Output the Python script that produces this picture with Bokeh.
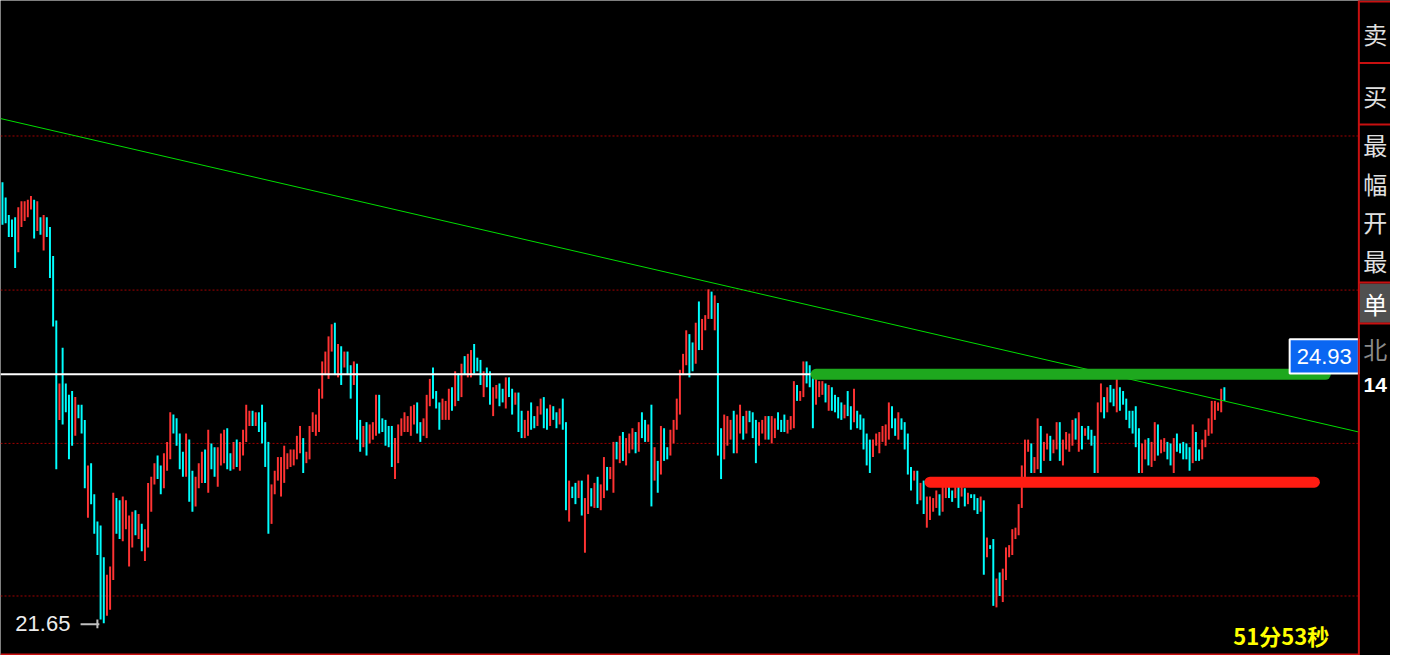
from bokeh.plotting import figure
from bokeh.models import Range1d
from bokeh.embed import file_html
from bokeh.resources import INLINE
from bokeh.core.properties import value

# ---------------- data ----------------
opens = [
    27.46, 27.26, 27.03, 26.97, 27.00, 26.54, 26.87, 26.95, 27.00, 27.10,
    27.23, 26.82, 27.00, 26.56, 27.00, 26.87, 26.49, 25.64, 24.33, 25.28,
    24.81, 24.66, 24.71, 24.12, 24.53, 24.53, 24.33, 23.04, 23.76, 23.35,
    22.99, 22.94, 22.52, 21.75, 21.83, 22.22, 23.30, 23.27, 22.73, 22.89,
    22.40, 22.65, 23.14, 22.76, 22.96, 22.47, 22.65, 23.12, 23.48, 23.86,
    23.73, 23.43, 23.66, 23.81, 24.40, 24.35, 24.15, 23.91, 23.58, 24.07,
    23.66, 23.19, 23.43, 23.50, 23.94, 23.37, 24.02, 23.97, 23.45, 23.73,
    23.76, 24.22, 23.89, 23.68, 24.07, 23.66, 23.86, 24.04, 24.25, 24.45,
    24.25, 24.43, 24.53, 24.30, 24.04, 22.96, 23.35, 23.53, 23.32, 23.50,
    23.68, 23.71, 23.73, 23.81, 23.89, 24.09, 23.76, 23.81, 24.17, 24.12,
    24.17, 24.61, 24.92, 24.87, 25.23, 25.61, 24.89, 25.30, 25.02, 25.23,
    25.05, 24.79, 25.07, 24.33, 23.97, 24.30, 24.02, 24.07, 24.12, 24.66,
    24.35, 24.33, 24.25, 24.25, 23.55, 23.76, 24.12, 24.17, 24.17, 24.12,
    24.27, 24.56, 24.30, 24.12, 24.09, 24.51, 25.02, 24.71, 24.56, 24.33,
    24.33, 24.33, 24.76, 24.51, 24.94, 24.63, 25.17, 24.89, 24.89, 25.33,
    25.15, 25.12, 24.63, 25.02, 24.97, 24.38, 24.61, 24.81, 24.74, 24.48,
    24.89, 24.74, 24.53, 24.69, 24.45, 24.09, 24.12, 24.56, 24.38, 24.25,
    24.40, 24.63, 24.48, 24.25, 24.51, 24.43, 24.27, 24.61, 24.30, 22.99,
    23.45, 23.50, 23.30, 23.53, 22.58, 23.09, 23.43, 23.17, 23.58, 23.14,
    23.30, 23.71, 23.55, 23.37, 24.04, 23.76, 24.17, 23.73, 23.89, 23.94,
    24.17, 23.91, 24.43, 24.33, 24.04, 24.53, 23.53, 23.79, 23.61, 24.22,
    23.97, 23.86, 24.02, 24.20, 24.40, 24.92, 25.05, 25.46, 25.35, 25.07,
    25.89, 25.25, 25.51, 25.66, 26.02, 25.51, 25.87, 24.22, 23.81, 23.99,
    24.07, 24.45, 23.89, 24.15, 24.38, 24.15, 24.45, 24.43, 24.33, 23.99,
    24.15, 24.07, 24.38, 24.02, 24.09, 24.43, 24.33, 24.40, 24.15, 24.20,
    24.22, 24.79, 24.58, 24.63, 25.10, 25.05, 24.89, 24.53, 24.63, 24.66,
    24.81, 24.45, 24.76, 24.66, 24.63, 24.56, 24.35, 24.71, 24.51, 24.30,
    24.45, 24.40, 24.35, 24.15, 24.07, 23.84, 23.99, 23.89, 24.04, 23.99,
    24.07, 24.51, 24.35, 24.07, 24.35, 24.30, 24.15, 23.71, 23.53, 23.66,
    23.27, 23.53, 22.91, 23.01, 23.12, 23.17, 23.35, 23.12, 23.30, 23.45,
    23.40, 23.30, 23.45, 23.32, 23.43, 23.22, 23.35, 23.35, 23.30, 23.12,
    23.27, 22.52, 22.68, 22.76, 21.86, 22.32, 21.93, 22.22, 22.52, 22.55,
    22.76, 22.81, 23.17, 23.48, 23.91, 24.02, 23.63, 23.68, 24.25, 23.79,
    23.94, 24.12, 23.89, 23.94, 24.30, 23.73, 23.94, 23.91, 23.99, 24.35,
    23.91, 24.25, 24.12, 24.25, 24.20, 24.12, 23.63, 24.43, 24.63, 24.43,
    24.79, 24.74, 24.43, 24.76, 24.71, 24.61, 24.45, 24.45, 24.51, 24.22,
    23.63, 23.81, 24.09, 23.71, 23.79, 24.27, 23.89, 23.91, 24.04, 24.02,
    23.63, 24.15, 24.02, 24.04, 24.02, 23.97, 23.76, 24.17, 23.94, 23.81,
    23.97, 24.12, 24.15, 24.33, 24.45, 24.43, 24.76,
]
closes = [
    26.90, 26.92, 26.74, 26.74, 26.33, 27.13, 27.21, 27.21, 27.23, 27.28,
    26.72, 27.21, 26.77, 27.03, 26.74, 26.20, 25.56, 23.68, 24.81, 24.27,
    24.43, 23.81, 23.99, 24.63, 24.35, 24.15, 23.43, 23.73, 23.22, 22.83,
    22.55, 21.70, 21.65, 22.29, 22.40, 23.37, 22.83, 22.76, 23.32, 23.27,
    23.07, 23.12, 22.81, 23.09, 22.60, 22.89, 23.50, 23.58, 23.76, 23.55,
    23.35, 23.89, 24.04, 24.43, 24.15, 23.99, 23.68, 23.58, 24.15, 23.25,
    23.12, 23.58, 23.76, 23.91, 23.50, 24.20, 23.68, 23.58, 23.97, 24.15,
    24.20, 23.68, 23.66, 24.04, 23.71, 24.04, 24.20, 24.53, 24.45, 24.25,
    24.43, 24.17, 24.02, 23.71, 22.83, 23.48, 23.66, 23.84, 23.84, 23.99,
    23.89, 23.94, 23.94, 24.12, 24.25, 23.63, 23.91, 24.25, 24.43, 24.40,
    24.74, 25.10, 25.23, 25.43, 25.59, 24.92, 25.33, 24.79, 25.23, 24.92,
    24.61, 25.10, 24.07, 23.91, 24.25, 23.86, 24.27, 24.30, 24.66, 24.15,
    24.17, 23.99, 23.97, 23.71, 24.09, 24.27, 24.35, 24.43, 24.38, 24.51,
    24.53, 24.15, 24.04, 24.35, 24.66, 24.87, 24.61, 24.48, 24.20, 24.61,
    24.58, 24.74, 24.45, 24.97, 24.58, 25.07, 24.92, 25.20, 25.25, 24.94,
    24.97, 24.79, 24.97, 24.76, 24.53, 24.76, 24.79, 24.51, 24.56, 24.89,
    24.63, 24.40, 24.69, 24.17, 24.09, 24.33, 24.45, 24.20, 24.22, 24.51,
    24.61, 24.22, 24.20, 24.53, 24.33, 24.22, 24.48, 24.20, 23.14, 23.53,
    23.30, 23.22, 23.53, 23.07, 23.30, 23.61, 23.19, 23.50, 23.17, 23.48,
    23.84, 23.40, 23.71, 24.04, 23.81, 24.12, 23.79, 24.09, 24.15, 24.22,
    23.89, 24.30, 24.09, 24.04, 24.27, 23.19, 23.97, 23.37, 24.25, 23.79,
    23.81, 24.20, 24.33, 24.61, 24.99, 25.20, 25.51, 24.89, 24.97, 25.61,
    25.25, 25.66, 25.71, 26.05, 25.66, 25.97, 23.86, 23.55, 24.40, 24.38,
    24.33, 23.89, 24.40, 24.53, 24.07, 24.45, 24.30, 24.09, 23.76, 24.30,
    24.33, 24.38, 24.07, 24.38, 24.35, 24.20, 24.17, 24.17, 24.33, 24.38,
    24.84, 24.58, 24.71, 25.10, 24.81, 24.76, 24.22, 24.87, 24.84, 24.84,
    24.56, 24.79, 24.45, 24.43, 24.35, 24.33, 24.53, 24.38, 24.20, 24.74,
    24.22, 24.20, 23.94, 23.73, 23.63, 24.07, 24.15, 24.17, 24.25, 24.27,
    24.56, 24.22, 24.12, 24.43, 24.20, 23.94, 23.61, 23.40, 23.66, 23.22,
    23.50, 23.09, 23.32, 23.32, 23.30, 23.40, 23.07, 23.53, 23.53, 23.30,
    23.25, 23.45, 23.17, 23.50, 23.19, 23.37, 23.30, 23.14, 23.09, 23.32,
    22.29, 22.78, 22.63, 21.88, 22.24, 22.01, 22.37, 22.65, 22.68, 22.89,
    22.91, 23.22, 23.73, 24.07, 24.07, 23.63, 23.84, 24.35, 23.63, 24.04,
    24.15, 23.79, 24.07, 24.30, 23.79, 24.07, 24.17, 24.15, 24.33, 24.07,
    24.43, 23.94, 24.22, 24.07, 23.99, 23.63, 24.56, 24.81, 24.35, 24.76,
    24.56, 24.51, 24.87, 24.45, 24.53, 24.33, 24.22, 24.15, 23.97, 23.63,
    24.02, 24.07, 23.73, 24.04, 24.30, 23.86, 24.07, 24.09, 23.81, 23.73,
    24.09, 23.91, 23.89, 23.81, 23.81, 23.66, 24.27, 23.79, 23.79, 24.07,
    24.20, 24.35, 24.58, 24.58, 24.56, 24.74, 24.58,
]

grid_levels = [28.07, 26.04, 24.02, 22.01]
last_price = 24.93
low_price = 21.65
trend_start, trend_end = 28.30, 24.17
resistance = 24.93
support = 23.51
green_from = 257          # candle index where the resistance marker starts
red_from = 293            # candle index where the support marker starts
panel_labels = ["卖", "买", "最", "幅", "开", "最", "单", "北", "14"]
timer_text = "51分53秒"

# ---------------- layout helpers (reference pixels -> data) ----------------
PITCH = 3.202
TOP_PRICE = 29.855
PX_PRICE = 0.01286


def X(px):
    return (px - 2) / PITCH


def Y(py):
    return TOP_PRICE - py * PX_PRICE


p = figure(width=1390, height=655, output_backend="svg", toolbar_location=None,
           x_range=Range1d(X(0), X(1406)), y_range=Range1d(Y(671), Y(0)),
           x_axis_location=None, y_axis_location=None,
           background_fill_color="black", border_fill_color="black",
           min_border=0, outline_line_color=None)
p.grid.visible = False

# grid lines
n_g = len(grid_levels)
p.segment(x0=[X(0)] * n_g, x1=[X(1373)] * n_g, y0=grid_levels, y1=grid_levels,
          line_color="#a00000", line_width=1, line_dash="2 2")

# candles
n = min(len(opens), len(closes))
xs = list(range(n))
tops = [max(o, c) for o, c in zip(opens, closes)]
bots = [min(o, c) for o, c in zip(opens, closes)]
cols = ["#ff3333" if c > o else "#00ffff" for o, c in zip(opens, closes)]
p.vbar(x=xs, top=tops, bottom=bots, width=0.62, fill_color=cols, line_color=None)

# last price line
p.segment(x0=[X(0)], x1=[X(1304)], y0=[last_price], y1=[last_price],
          line_color="white", line_width=2)

# trend line
p.segment(x0=[X(0)], x1=[X(1374)], y0=[trend_start], y1=[trend_end],
          line_color="#00dd00", line_width=1)

# thick resistance / support markers
p.segment(x0=[green_from], x1=[X(1340)], y0=[resistance], y1=[resistance],
          line_color="#1ea81e", line_width=11, line_cap="round")
p.segment(x0=[red_from], x1=[X(1329)], y0=[support], y1=[support],
          line_color="#ff1c12", line_width=11, line_cap="round")

# last price tag
p.quad(left=[X(1304)], right=[X(1374)], top=[Y(347)], bottom=[Y(382)],
       fill_color="#0a66f2", line_color="white", line_width=2)
p.text(x=[X(1339)], y=[Y(365)], text=[f"{last_price:.2f}"], text_align="center",
       text_baseline="middle", text_color="white",
       text_font=value("Liberation Sans"), text_font_size="22px")

# low marker
p.text(x=[X(15)], y=[Y(638)], text=[f"{low_price:.2f}"], text_align="left",
       text_baseline="middle", text_color="#ececec",
       text_font=value("Liberation Sans"), text_font_size="22px")
p.segment(x0=[X(81)], x1=[X(100)], y0=[Y(639)], y1=[Y(639)],
          line_color="#c0c0c0", line_width=2)
p.segment(x0=[X(98)], x1=[X(98)], y0=[Y(634)], y1=[Y(643)],
          line_color="#c0c0c0", line_width=2)

# timer
p.text(x=[X(1247)], y=[Y(650)], text=[timer_text], text_align="left",
       text_baseline="middle", text_color="#ffff00", text_font_style="bold",
       text_font=value("Noto Sans CJK SC"), text_font_size="22px")

# bottom border
p.segment(x0=[X(0)], x1=[X(1374)], y0=[Y(670)], y1=[Y(670)],
          line_color="#c81010", line_width=2)

# right panel
p.quad(left=[X(1375)], right=[X(1410)], top=[Y(-5)], bottom=[Y(680)],
       fill_color="black", line_color=None)
p.quad(left=[X(1375)], right=[X(1410)], top=[Y(290)], bottom=[Y(330)],
       fill_color="#505050", line_color=None)
sep = [1, 64, 127, 289, 331]
p.segment(x0=[X(1374)] * len(sep), x1=[X(1410)] * len(sep),
          y0=[Y(s) for s in sep], y1=[Y(s) for s in sep],
          line_color="#c81010", line_width=2)
p.segment(x0=[X(1374)], x1=[X(1374)], y0=[Y(-5)], y1=[Y(680)],
          line_color="#c81010", line_width=2)

label_y = [33.5, 97, 147.5, 187.5, 226.5, 266.5, 310, 356.5]
label_c = ["#e0e0e0"] * 6 + ["#ffffff", "#8a8a8a"]
p.text(x=[X(1390.5)] * 8, y=[Y(v) for v in label_y], text=panel_labels[:8],
       text_align="center", text_baseline="middle", text_color=label_c,
       text_font=value("Noto Sans CJK SC"), text_font_size="24px")
p.text(x=[X(1390.5)], y=[Y(394)], text=[panel_labels[8]], text_align="center",
       text_baseline="middle", text_color="white", text_font_style="bold",
       text_font=value("Liberation Sans"), text_font_size="21px")

open("out.html", "w").write(file_html(p, INLINE))
